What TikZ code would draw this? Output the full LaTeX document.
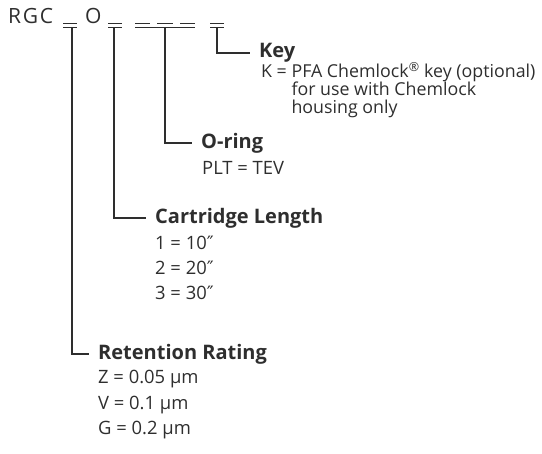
\documentclass[tikz,border=0pt]{standalone}
\usepackage{fontspec}
\setmainfont{Open Sans}
\newfontfamily\symfont{DejaVu Sans}
\usetikzlibrary{positioning}
\definecolor{inkgray}{HTML}{2E2E2E}

\begin{document}
\begin{tikzpicture}[x=1pt,y=-1pt,
    every node/.style={text=inkgray},
    bar/.style={draw=inkgray, line width=1.2pt},
    head/.style={anchor=west, inner xsep=9pt, inner ysep=0pt,
      font=\fontsize{20}{22}\selectfont\bfseries},
    item/.style={anchor=west, inner sep=0pt, align=left,
      font=\fontsize{18.4}{18}\selectfont}]
  \useasboundingbox (0,0) rectangle (542,454);
  % part number line
  \node[anchor=base west, inner sep=0pt, font=\fontsize{21}{22}\selectfont\addfontfeatures{LetterSpace=8}] (rgc) at (8,24) {RGC};
  \node[anchor=base west, inner sep=0pt, font=\fontsize{21}{22}\selectfont] (zero) at (85,24) {O};
  \foreach \xa/\xb in {63/77,108/122,135/150,157/173,180/195,210/224}
    \draw[bar] (\xa,23.5) -- (\xb,23.5);
  \foreach \name/\xa/\xb/\xm in {rate/63/77/72,len/108/122/114,ring/135/195/165,key/210/224/217} {
    \draw[bar] (\xa,27.5) -- (\xb,27.5);
    \coordinate (\name) at (\xm,27.5);
  }
  % key
  \node[head] (keyhead) at (250,53) {Key};
  \node[item, font=\fontsize{17.8}{18}\selectfont] (keytext) at (261,90)
    {K = PFA Chemlock\textsuperscript{®} key (optional)\\
     \phantom{K = }for use with Chemlock\\
     \phantom{K = }housing only};
  \draw[bar] (key) |- (keyhead.west);
  % o-ring
  \node[head] (ringhead) at (192,143) {O-ring};
  \node[item] (ringtext) at (202,168) {PLT = TEV};
  \draw[bar] (ring) |- (ringhead.west);
  % cartridge length
  \node[head] (lenhead) at (146,218) {Cartridge Length};
  \foreach \y/\val in {243/{1 = 10{\symfont ″}},268/{2 = 20{\symfont ″}},293/{3 = 30{\symfont ″}}}
    \node[item] (len\y) at (155,\y) {\val};
  \draw[bar] (len) |- (lenhead.west);
  % retention rating
  \node[head] (ratehead) at (89,354) {Retention Rating};
  \foreach \y/\val in {379/{Z = 0.05 µm},405/{V = 0.1 µm},430/{G = 0.2 µm}}
    \node[item] (rate\y) at (98,\y) {\val};
  \draw[bar] (rate) |- (ratehead.west);
\end{tikzpicture}
\end{document}
